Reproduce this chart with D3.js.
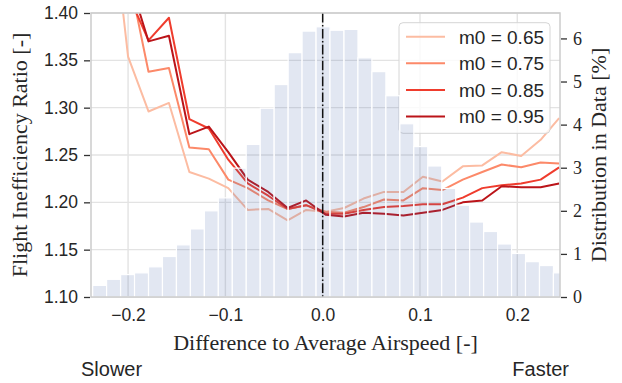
<!DOCTYPE html>
<html>
<head>
<meta charset="utf-8">
<script src="https://cdn.jsdelivr.net/npm/d3@7"></script>
<style>
    body { margin: 0; background: #fff; }
    svg { display: block; }
</style>
</head>
<body>
<div id="chart"></div>
<script>
// Data
const LINE_X = [-0.220, -0.200, -0.179, -0.158, -0.137, -0.117, -0.097, -0.077, -0.056, -0.036, -0.017, 0.003,
    0.022, 0.042, 0.063, 0.083, 0.103, 0.123, 0.144, 0.164, 0.184, 0.204, 0.224, 0.243];
const M065 = [1.536, 1.354, 1.296, 1.305, 1.232, 1.225, 1.215, 1.192, 1.193, 1.181, 1.192, 1.190,
    1.194, 1.204, 1.211, 1.211, 1.227, 1.222, 1.238, 1.239, 1.253, 1.249, 1.266, 1.289];
const M075 = [1.600, 1.443, 1.338, 1.342, 1.258, 1.256, 1.224, 1.215, 1.202, 1.193, 1.197, 1.190,
    1.189, 1.195, 1.203, 1.202, 1.215, 1.213, 1.224, 1.232, 1.240, 1.237, 1.242, 1.241];
const M085 = [1.550, 1.420, 1.371, 1.395, 1.288, 1.278, 1.245, 1.220, 1.207, 1.193, 1.197, 1.188,
    1.188, 1.192, 1.195, 1.196, 1.198, 1.198, 1.205, 1.215, 1.218, 1.220, 1.224, 1.237];
const M095 = [1.580, 1.440, 1.370, 1.376, 1.272, 1.280, 1.253, 1.224, 1.211, 1.194, 1.202, 1.187,
    1.185, 1.189, 1.188, 1.186, 1.189, 1.192, 1.200, 1.202, 1.217, 1.216, 1.216, 1.220];
const SERIES_NAMES = ["m0 = 0.65", "m0 = 0.75", "m0 = 0.85", "m0 = 0.95"];
const SERIES_COLORS = ["#fcbca2", "#fc8969", "#ef3c2d", "#bb1419"];

const BIN_CENTERS = [-0.2292, -0.2149, -0.2005, -0.1862, -0.1718, -0.1575, -0.1431, -0.1288, -0.1144, -0.1001,
    -0.0857, -0.0714, -0.0570, -0.0427, -0.0283, -0.0140, 0.0004, 0.0147, 0.0291, 0.0434,
    0.0578, 0.0721, 0.0865, 0.1008, 0.1152, 0.1295, 0.1439, 0.1582, 0.1726, 0.1869,
    0.2013, 0.2156, 0.2300, 0.2443];
const BIN_WIDTH = 0.01435;
const BIN_PCT = [0.27, 0.41, 0.52, 0.56, 0.70, 0.94, 1.21, 1.58, 2.00, 2.30,
    2.99, 3.54, 4.38, 4.93, 5.67, 6.17, 6.27, 6.19, 6.21, 5.55,
    5.23, 4.67, 4.02, 3.49, 3.04, 2.52, 2.13, 1.74, 1.52, 1.23,
    1.01, 0.82, 0.73, 0.56];

const X_TICKS = [-0.2, -0.1, 0.0, 0.1, 0.2];
const Y_TICKS = [1.10, 1.15, 1.20, 1.25, 1.30, 1.35, 1.40];
const Y2_TICKS = [0, 1, 2, 3, 4, 5, 6];

// Layout
const W = 622, H = 383;
const PLOT = { left: 91, right: 560, top: 13, bottom: 297 };
const SANS = "'Liberation Sans', Arial, sans-serif";
const SERIF = "'Liberation Serif', 'Times New Roman', serif";
const TEXT = "#262626";

const svg = d3.select("#chart")
    .append("svg")
    .attr("width", W)
    .attr("height", H);

svg.append("rect").attr("width", W).attr("height", H).attr("fill", "#fff");

const x = d3.scaleLinear().domain([-0.2381, 0.2439]).range([PLOT.left, PLOT.right]);
const y = d3.scaleLinear().domain([1.10, 1.40]).range([PLOT.bottom, PLOT.top]);
const y2 = d3.scaleLinear().domain([0, 6.59]).range([PLOT.bottom, PLOT.top]);

svg.append("clipPath").attr("id", "clip")
    .append("rect")
    .attr("x", PLOT.left).attr("y", PLOT.top)
    .attr("width", PLOT.right - PLOT.left).attr("height", PLOT.bottom - PLOT.top);

// Grid
svg.append("g")
    .selectAll("line.vg")
    .data(X_TICKS)
    .join("line")
    .attr("x1", d => x(d)).attr("x2", d => x(d))
    .attr("y1", PLOT.top).attr("y2", PLOT.bottom)
    .attr("stroke", "#e3e3e3").attr("stroke-width", 1.4);

svg.append("g")
    .selectAll("line.hg")
    .data(Y_TICKS)
    .join("line")
    .attr("x1", PLOT.left).attr("x2", PLOT.right)
    .attr("y1", d => y(d)).attr("y2", d => y(d))
    .attr("stroke", "#e3e3e3").attr("stroke-width", 1.4);

// Lines
const series = [M065, M075, M085, M095];
const line = d3.line()
    .x((d, i) => x(LINE_X[i]))
    .y(d => y(d));

svg.append("g")
    .attr("clip-path", "url(#clip)")
    .selectAll("path")
    .data(series)
    .join("path")
    .attr("fill", "none")
    .attr("stroke", (d, i) => SERIES_COLORS[i])
    .attr("stroke-width", 2)
    .attr("stroke-linejoin", "round")
    .attr("d", line);

// Legend (belongs to the first axes, so histogram goes on top of it)
const legend = svg.append("g");
legend.append("rect")
    .attr("x", 399).attr("y", 22.7)
    .attr("width", 151).attr("height", 110.6)
    .attr("rx", 4)
    .attr("fill", "#fff").attr("fill-opacity", 0.8)
    .attr("stroke", "#d6d6d6").attr("stroke-width", 1);

SERIES_NAMES.forEach((name, i) => {
    const ly = 36.7 + i * 26.6;
    legend.append("line")
        .attr("x1", 406).attr("x2", 445)
        .attr("y1", ly).attr("y2", ly)
        .attr("stroke", SERIES_COLORS[i]).attr("stroke-width", 2);
    legend.append("text")
        .attr("x", 459).attr("y", ly + 6.8)
        .attr("font-family", SANS).attr("font-size", 19)
        .attr("fill", TEXT)
        .text(name);
});

// Histogram on the twin axis
svg.append("g")
    .attr("clip-path", "url(#clip)")
    .selectAll("rect")
    .data(BIN_PCT)
    .join("rect")
    .attr("x", (d, i) => x(BIN_CENTERS[i] - BIN_WIDTH / 2))
    .attr("width", (d, i) => x(BIN_CENTERS[i] + BIN_WIDTH / 2) - x(BIN_CENTERS[i] - BIN_WIDTH / 2))
    .attr("y", d => y2(d))
    .attr("height", d => y2(0) - y2(d))
    .attr("fill", "#4c6cb0")
    .attr("fill-opacity", 0.16)
    .attr("stroke", "#fff")
    .attr("stroke-width", 1.2);

// Zero line
svg.append("line")
    .attr("x1", x(0)).attr("x2", x(0))
    .attr("y1", PLOT.top).attr("y2", PLOT.bottom)
    .attr("stroke", "#111")
    .attr("stroke-width", 1.5)
    .attr("stroke-dasharray", "9.6,2.4,1.5,2.4");

// Frame
svg.append("rect")
    .attr("x", PLOT.left).attr("y", PLOT.top)
    .attr("width", PLOT.right - PLOT.left).attr("height", PLOT.bottom - PLOT.top)
    .attr("fill", "none")
    .attr("stroke", "#cccccc")
    .attr("stroke-width", 1.5);

// Axes
svg.append("g")
    .attr("transform", `translate(${PLOT.left - 1},0)`)
    .call(d3.axisLeft(y).tickValues(Y_TICKS).tickFormat(d3.format(".2f")).tickSize(6).tickPadding(6))
    .call(g => g.select(".domain").remove())
    .call(g => g.selectAll(".tick line").attr("stroke", "#333").attr("stroke-width", 1.3))
    .call(g => g.selectAll(".tick text")
        .attr("font-family", SANS).attr("font-size", 17.5).attr("fill", TEXT));

svg.append("g")
    .attr("transform", `translate(${PLOT.right + 1},0)`)
    .call(d3.axisRight(y2).tickValues(Y2_TICKS).tickFormat(d3.format("d")).tickSize(6).tickPadding(6))
    .call(g => g.select(".domain").remove())
    .call(g => g.selectAll(".tick line").attr("stroke", "#333").attr("stroke-width", 1.3))
    .call(g => g.selectAll(".tick text")
        .attr("font-family", SERIF).attr("font-size", 18).attr("fill", TEXT));

svg.append("g")
    .attr("transform", `translate(0,${PLOT.bottom})`)
    .call(d3.axisBottom(x).tickValues(X_TICKS).tickFormat(d3.format(".1f")).tickSize(0).tickPadding(12))
    .call(g => g.select(".domain").remove())
    .call(g => g.selectAll(".tick text")
        .attr("font-family", SANS).attr("font-size", 17.5).attr("fill", TEXT));

// Axis titles
svg.append("text")
    .attr("x", (PLOT.left + PLOT.right) / 2).attr("y", 350)
    .attr("text-anchor", "middle")
    .attr("font-family", SERIF).attr("font-size", 22).attr("fill", TEXT)
    .text("Difference to Average Airspeed [-]");

svg.append("text")
    .attr("transform", `translate(27,${(PLOT.top + PLOT.bottom) / 2}) rotate(-90)`)
    .attr("text-anchor", "middle")
    .attr("font-family", SERIF).attr("font-size", 22).attr("fill", TEXT)
    .text("Flight Inefficiency Ratio [-]");

svg.append("text")
    .attr("transform", `translate(606,${(PLOT.top + PLOT.bottom) / 2}) rotate(-90)`)
    .attr("text-anchor", "middle")
    .attr("font-family", SERIF).attr("font-size", 22).attr("fill", TEXT)
    .text("Distribution in Data [%]");

// Direction hints
svg.append("text")
    .attr("x", 81).attr("y", 376)
    .attr("font-family", SANS).attr("font-size", 20).attr("fill", TEXT)
    .text("Slower");

svg.append("text")
    .attr("x", 569).attr("y", 376)
    .attr("text-anchor", "end")
    .attr("font-family", SANS).attr("font-size", 20).attr("fill", TEXT)
    .text("Faster");
</script>
</body>
</html>
